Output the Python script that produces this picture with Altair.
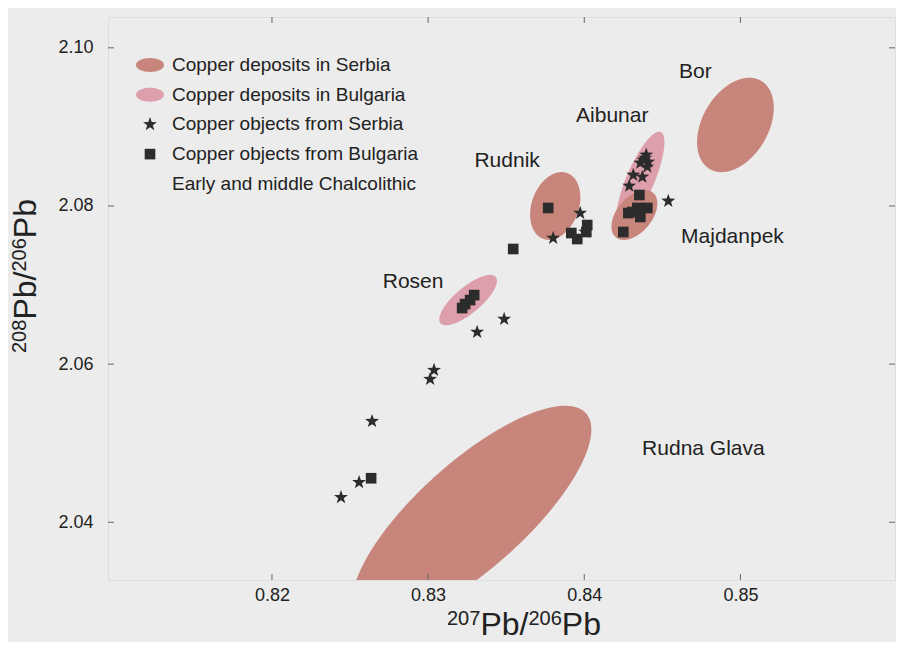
import numpy as np
import pandas as pd
import altair as alt

# ---------------- data ----------------
SER_DEP = "Copper deposits in Serbia"
BUL_DEP = "Copper deposits in Bulgaria"
SER_OBJ = "Copper objects from Serbia"
BUL_OBJ = "Copper objects from Bulgaria"
EXTRA = "Early and middle Chalcolithic"
categories = [SER_DEP, BUL_DEP, SER_OBJ, BUL_OBJ, EXTRA]

# copper objects from Serbia (stars)
serbia_x = [0.83974, 0.83801, 0.84006, 0.84397, 0.84378, 0.84404, 0.84359,
            0.84314, 0.84372, 0.84288, 0.84391, 0.84410, 0.84538,
            0.83487, 0.83314, 0.83038, 0.83013, 0.82641, 0.82558, 0.82442]
serbia_y = [2.07911, 2.07595, 2.07671, 2.08646, 2.08582, 2.08494, 2.08544,
            2.08392, 2.08367, 2.08253, 2.08608, 2.08557, 2.08063,
            2.06570, 2.06405, 2.05924, 2.05810, 2.05278, 2.04506, 2.04316]

# copper objects from Bulgaria (squares)
bulgaria_x = [0.83769, 0.83917, 0.83955, 0.84019, 0.84013, 0.83545,
              0.84353, 0.84282, 0.84340, 0.84359, 0.84404, 0.84250, 0.84308,
              0.83295, 0.83269, 0.83237, 0.83218, 0.82635]
bulgaria_y = [2.07975, 2.07658, 2.07582, 2.07759, 2.07671, 2.07456,
              2.08139, 2.07911, 2.07975, 2.07861, 2.07975, 2.07671, 2.07924,
              2.06873, 2.06810, 2.06759, 2.06709, 2.04557]

# ore-deposit fields (ellipses: centre and semi-axis vectors, data units)
deposit_names = ["Aibunar", "Rosen", "Bor", "Rudnik", "Majdanpek", "Rudna Glava"]
deposit_group = [BUL_DEP, BUL_DEP, SER_DEP, SER_DEP, SER_DEP, SER_DEP]
deposit_cx = [0.84359, 0.83256, 0.84968, 0.83814, 0.84321, 0.83280]
deposit_cy = [2.08329, 2.06810, 2.09025, 2.08000, 2.07886, 2.04090]
major_dx = [0.001303, 0.001768, 0.001635, 0.000767, 0.001195, 0.007300]
major_dy = [0.006062, 0.002930, 0.005591, 0.004165, 0.002812, 0.012900]
minor_dx = [-0.000827, -0.000536, -0.001832, -0.001416, -0.000859, -0.002300]
minor_dy = [0.000693, 0.001260, 0.002089, 0.001017, 0.001424, 0.005000]

# deposit name labels
label_text = ["Bor", "Aibunar", "Rudnik", "Majdanpek", "Rosen", "Rudna Glava"]
label_x = [0.84712, 0.84179, 0.83506, 0.84949, 0.82904, 0.84763]
label_y = [2.09696, 2.09139, 2.08570, 2.07608, 2.07038, 2.04924]

x_ticks = [0.82, 0.83, 0.84, 0.85]
y_ticks = [2.04, 2.06, 2.08, 2.10]
x_domain = [0.8095, 0.8599]
y_domain = [2.0327, 2.1039]

# ---------------- tables ----------------
rows = []
s = np.linspace(0, np.pi, 181)
for i, name in enumerate(deposit_names):
    cx, cy = deposit_cx[i], deposit_cy[i]
    ax_, ay_, bx_, by_ = major_dx[i], major_dy[i], minor_dx[i], minor_dy[i]
    t0 = np.arctan2(bx_, ax_)
    t1 = t0 + np.pi + s
    t2 = t0 + np.pi - s
    xs_ = cx + ax_ * np.cos(t1) + bx_ * np.sin(t1)
    ya = cy + ay_ * np.cos(t1) + by_ * np.sin(t1)
    yb = cy + ay_ * np.cos(t2) + by_ * np.sin(t2)
    for xx, y1, y2 in zip(xs_, ya, yb):
        rows.append({"name": name, "cat": deposit_group[i], "x": float(xx),
                     "ylo": float(min(y1, y2)), "yhi": float(max(y1, y2))})
fields = pd.DataFrame(rows)

points = pd.DataFrame({
    "x": serbia_x + bulgaria_x,
    "y": serbia_y + bulgaria_y,
    "cat": [SER_OBJ] * len(serbia_x) + [BUL_OBJ] * len(bulgaria_x),
})
labels = pd.DataFrame({"text": label_text, "x": label_x, "y": label_y})
xt = pd.DataFrame({"v": x_ticks})
yt = pd.DataFrame({"v": y_ticks})
one = pd.DataFrame({"a": [0]})

# ---------------- styling ----------------
FONT = "Liberation Sans"
W, H = 787, 563
SER_COL = "#c8857b"
BUL_COL = "#dd9fab"
DARK = "#2c2c2c"
INK = "#222222"

ell = "M" + "L".join(f"{np.cos(a):.3f},{0.5*np.sin(a):.3f}"
                     for a in np.linspace(0, 2*np.pi, 33)[:-1]) + "Z"
star = "M" + "L".join(
    f"{(0.52 if k % 2 == 0 else 0.21)*np.cos(-np.pi/2 + k*np.pi/5):.3f},"
    f"{(0.52 if k % 2 == 0 else 0.21)*np.sin(-np.pi/2 + k*np.pi/5):.3f}"
    for k in range(10)) + "Z"
square = "M-0.38,-0.38L0.38,-0.38L0.38,0.38L-0.38,0.38Z"

color_scale = alt.Scale(domain=categories,
                        range=[SER_COL, BUL_COL, DARK, DARK, "rgba(0,0,0,0)"])
shape_scale = alt.Scale(domain=categories, range=[ell, ell, star, square, square])

xs = alt.Scale(domain=x_domain, nice=False, zero=False)
ys = alt.Scale(domain=y_domain, nice=False, zero=False)
xaxis = alt.Axis(values=x_ticks, format=".2f", ticks=False, domain=False, grid=False,
                 labelFontSize=18, labelPadding=6, labelColor=INK, labelFont=FONT,
                 title=None)
yaxis = alt.Axis(values=y_ticks, format=".2f", ticks=False, domain=False, grid=False,
                 labelFontSize=18, labelPadding=15, labelColor=INK, labelFont=FONT,
                 title=None)


def X(f):
    return alt.X(f, type="quantitative", scale=xs, axis=xaxis)


def Y(f):
    return alt.Y(f, type="quantitative", scale=ys, axis=yaxis)


legend = alt.Legend(title=None, orient="none", legendX=28, legendY=34,
                    symbolSize=784, rowPadding=5.7, labelOffset=8,
                    labelFontSize=19, labelFont=FONT, labelColor=INK,
                    labelLimit=400, symbolStrokeWidth=0)

base_fields = alt.Chart(fields)
bul_area = base_fields.transform_filter(alt.datum.cat == BUL_DEP).mark_area(
    clip=True, opacity=1).encode(
    x=X("x"), y=Y("ylo"), y2="yhi", detail="name:N",
    color=alt.Color("cat:N", scale=color_scale, legend=legend))
ser_area = base_fields.transform_filter(alt.datum.cat == SER_DEP).mark_area(
    clip=True, opacity=1).encode(
    x=X("x"), y=Y("ylo"), y2="yhi", detail="name:N",
    color=alt.Color("cat:N", scale=color_scale, legend=legend))

pts = alt.Chart(points).mark_point(filled=True, size=784, opacity=1,
                                   strokeWidth=0).encode(
    x=X("x"), y=Y("y"),
    color=alt.Color("cat:N", scale=color_scale, legend=legend),
    shape=alt.Shape("cat:N", scale=shape_scale, legend=legend))

txt = alt.Chart(labels).mark_text(font=FONT, fontSize=21, color=INK,
                                  align="center", baseline="middle").encode(
    x=X("x"), y=Y("y"), text="text:N")

TICK = dict(color="#666", strokeWidth=1)
t_bottom = alt.Chart(xt).mark_rule(**TICK).encode(
    x=X("v"), y=alt.value(H), y2=alt.value(H - 6))
t_top = alt.Chart(xt).mark_rule(**TICK).encode(
    x=X("v"), y=alt.value(0), y2=alt.value(6))
t_left = alt.Chart(yt).mark_rule(**TICK).encode(
    y=Y("v"), x=alt.value(0), x2=alt.value(6))
t_right = alt.Chart(yt).mark_rule(**TICK).encode(
    y=Y("v"), x=alt.value(W), x2=alt.value(W - 6))

# axis titles 207Pb/206Pb and 208Pb/206Pb with superscript mass numbers
BIG, SMALL, RAISE = 32, 20, 10


def piece(text, size, x, y, angle=0):
    return alt.Chart(one).mark_text(text=text, font=FONT, fontSize=size, color=INK,
                                    align="left", baseline="alphabetic",
                                    angle=angle).encode(x=alt.value(x), y=alt.value(y))


XB = 618  # baseline of x title (pixels from plot top)
x_title = [
    piece("207", SMALL, 339, XB - RAISE),
    piece("Pb/", BIG, 372.4, XB),
    piece("206", SMALL, 420.4, XB - RAISE),
    piece("Pb", BIG, 453.8, XB),
]
YB = -72  # baseline of y title (pixels from plot left)
y_title = [
    piece("208", SMALL, YB - RAISE, 336, 270),
    piece("Pb/", BIG, YB, 302.6, 270),
    piece("206", SMALL, YB - RAISE, 254.6, 270),
    piece("Pb", BIG, YB, 221.2, 270),
]

chart = alt.layer(bul_area, ser_area, t_bottom, t_top, t_left, t_right, pts, txt,
                  *x_title, *y_title).properties(
    width=W, height=H,
    padding={"left": 100, "top": 9, "right": 1, "bottom": 62},
    autosize=alt.AutoSizeParams(type="none"),
    background="#ececec",
).configure_view(
    fill="#e3e3e5", stroke="#333", strokeWidth=1.5
).configure(font=FONT)

chart.save("out.html", embed_options={"renderer": "svg", "actions": False})
